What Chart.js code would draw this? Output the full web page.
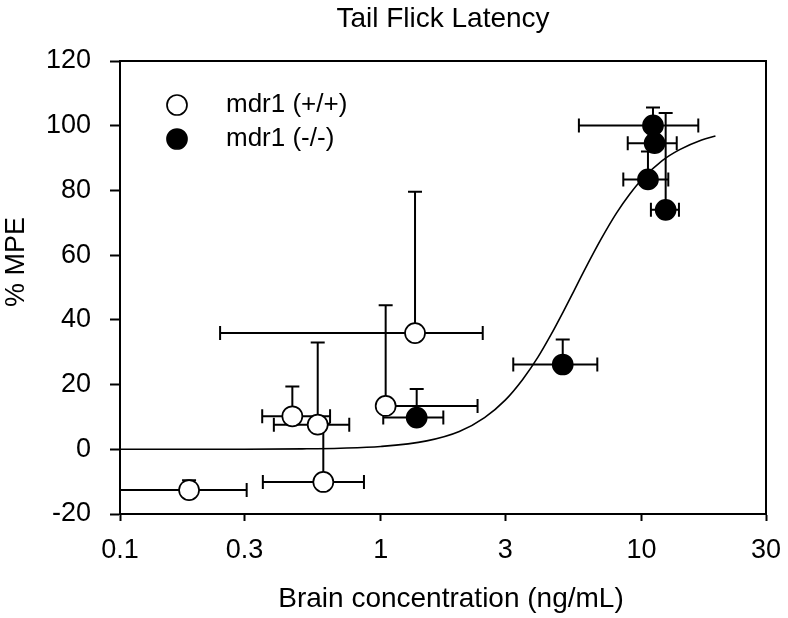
<!DOCTYPE html>
<html>
<head>
<meta charset="utf-8">
<script src="https://cdn.jsdelivr.net/npm/chart.js@4.4.1/dist/chart.umd.min.js"></script>
<style>
  html, body { margin: 0; padding: 0; background: #fff; }
</style>
</head>
<body>
<canvas id="myChart" width="788" height="618"></canvas>
<script>
const xTicks = [0.1, 0.3, 1, 3, 10, 30];

// mdr1 (+/+) - open circles
const wtX   = [0.184, 0.458, 0.573, 0.602, 1.044, 1.353];
const wtY   = [-12.6, 10.2, 7.6, -10.1, 13.4, 35.9];
const wtXLo = [0.1, 0.351, 0.389, 0.353, 1.044, 0.242];
const wtXHi = [0.306, 0.639, 0.757, 0.862, 2.35, 2.46];
const wtYHi = [-9.6, 19.4, 33.0, 7.9, 44.5, 79.6];

// mdr1 (-/-) - filled circles
const koX   = [1.373, 4.985, 10.58, 12.37, 11.22, 11.06];
const koY   = [9.8, 26.2, 83.4, 74.0, 94.6, 100.1];
const koXLo = [1.022, 3.221, 8.51, 10.86, 8.85, 5.75];
const koXHi = [1.737, 6.765, 12.66, 13.91, 13.64, 16.5];
const koYHi = [18.6, 33.9, 92.0, 103.9, 100.0, 105.6];

// fitted curve
const fitX = [0.1, 0.3, 0.5, 0.7, 1, 1.5, 2, 2.5, 3, 3.5, 4, 4.5, 5, 5.5, 6, 7, 8, 9, 10, 12, 14, 17, 19.2];
const fitY = [0, 0.03, 0.13, 0.32, 0.86, 2.6, 5.5, 9.8, 15.2, 21.6, 28.4, 35.5, 42.4, 48.9, 54.9, 65.0, 72.9, 78.8, 83.3, 89.2, 92.6, 95.6, 96.8];

const FONT = '"Liberation Sans", Arial, sans-serif';

const toPoints = (xs, ys) => xs.map((v, i) => ({ x: v, y: ys[i] }));

// Error bars drawn under the markers
const errorBars = {
    id: 'errorBars',
    beforeDatasetsDraw(chart) {
        const { ctx, chartArea, scales: { x, y } } = chart;
        const cap = 7;
        ctx.save();
        ctx.beginPath();
        ctx.rect(chartArea.left, chartArea.top, chartArea.width, chartArea.height);
        ctx.clip();
        ctx.strokeStyle = '#000';
        ctx.lineWidth = 2;
        [[wtX, wtY, wtXLo, wtXHi, wtYHi], [koX, koY, koXLo, koXHi, koYHi]].forEach(([xs, ys, lo, hi, yh]) => {
            xs.forEach((v, i) => {
                const px = x.getPixelForValue(v);
                const py = y.getPixelForValue(ys[i]);
                const l = x.getPixelForValue(lo[i]);
                const r = x.getPixelForValue(hi[i]);
                const t = y.getPixelForValue(yh[i]);
                ctx.beginPath();
                if (px - l > 1) {
                    ctx.moveTo(l, py); ctx.lineTo(px, py);
                    ctx.moveTo(l, py - cap); ctx.lineTo(l, py + cap);
                }
                if (r - px > 1) {
                    ctx.moveTo(px, py); ctx.lineTo(r, py);
                    ctx.moveTo(r, py - cap); ctx.lineTo(r, py + cap);
                }
                if (py - t > 1) {
                    ctx.moveTo(px, py); ctx.lineTo(px, t);
                    ctx.moveTo(px - cap, t); ctx.lineTo(px + cap, t);
                }
                ctx.stroke();
            });
        });
        ctx.restore();
    }
};

// Frame, titles and the legend inside the plot
const decorations = {
    id: 'decorations',
    afterDraw(chart) {
        const { ctx, chartArea } = chart;
        ctx.save();
        ctx.strokeStyle = '#000';
        ctx.lineWidth = 2;
        ctx.beginPath();
        ctx.moveTo(chartArea.left, chartArea.top);
        ctx.lineTo(chartArea.right, chartArea.top);
        ctx.lineTo(chartArea.right, chartArea.bottom);
        ctx.stroke();

        ctx.fillStyle = '#000';
        ctx.textAlign = 'center';
        ctx.textBaseline = 'alphabetic';
        ctx.font = '28px ' + FONT;
        ctx.fillText('Tail Flick Latency', (chartArea.left + chartArea.right) / 2, 27);
        ctx.font = '28px ' + FONT;
        ctx.fillText('Brain concentration (ng/mL)', (chartArea.left + chartArea.right) / 2 + 8, 607);

        ctx.save();
        ctx.translate(24, 262);
        ctx.rotate(-Math.PI / 2);
        ctx.font = '27px ' + FONT;
        ctx.fillText('% MPE', 0, 0);
        ctx.restore();

        // legend
        const lx = chartArea.left + 57;
        const rows = [
            { y: chartArea.top + 44, label: 'mdr1 (+/+)', fill: '#fff' },
            { y: chartArea.top + 78, label: 'mdr1 (-/-)', fill: '#000' }
        ];
        ctx.font = '26px ' + FONT;
        ctx.textAlign = 'left';
        ctx.textBaseline = 'middle';
        rows.forEach(row => {
            ctx.beginPath();
            ctx.arc(lx, row.y, 10, 0, Math.PI * 2);
            ctx.fillStyle = row.fill;
            ctx.fill();
            ctx.lineWidth = 1.7;
            ctx.stroke();
            ctx.fillStyle = '#000';
            ctx.fillText(row.label, lx + 49, row.y);
        });
        ctx.restore();
    }
};

const ctx = document.getElementById('myChart').getContext('2d');
const myChart = new Chart(ctx, {
    type: 'scatter',
    data: {
        datasets: [
            {
                label: 'fit',
                data: toPoints(fitX, fitY),
                showLine: true,
                borderColor: '#000',
                borderWidth: 1.6,
                pointRadius: 0,
                cubicInterpolationMode: 'monotone',
                fill: false
            },
            {
                label: 'mdr1 (+/+)',
                data: toPoints(wtX, wtY),
                pointRadius: 10,
                pointBackgroundColor: '#fff',
                pointBorderColor: '#000',
                pointBorderWidth: 1.7,
                showLine: false
            },
            {
                label: 'mdr1 (-/-)',
                data: toPoints(koX, koY),
                pointRadius: 10,
                pointBackgroundColor: '#000',
                pointBorderColor: '#000',
                pointBorderWidth: 1.7,
                showLine: false
            }
        ]
    },
    options: {
        responsive: false,
        animation: false,
        devicePixelRatio: 1,
        layout: { padding: { top: 61, right: 22, left: 0, bottom: 0 } },
        plugins: {
            legend: { display: false },
            tooltip: { enabled: false }
        },
        scales: {
            x: {
                type: 'logarithmic',
                min: 0.1,
                max: 30,
                afterBuildTicks: scale => { scale.ticks = xTicks.map(v => ({ value: v })); },
                afterFit: scale => {
                    scale.height = 104;
                    scale.paddingLeft = 0;
                    scale.paddingRight = 0;
                },
                grid: { drawOnChartArea: false, drawTicks: true, tickLength: 7, tickColor: '#000', tickWidth: 2 },
                border: { display: true, color: '#000', width: 2 },
                ticks: {
                    color: '#000',
                    font: { family: FONT, size: 27 },
                    padding: 13,
                    maxRotation: 0,
                    autoSkip: false,
                    callback: value => String(value)
                }
            },
            y: {
                min: -20,
                max: 120,
                afterFit: scale => { scale.width = 120; },
                grid: { drawOnChartArea: false, drawTicks: true, tickLength: 10, tickColor: '#000', tickWidth: 2 },
                border: { display: true, color: '#000', width: 2 },
                ticks: {
                    stepSize: 20,
                    color: '#000',
                    font: { family: FONT, size: 27 },
                    padding: 19
                }
            }
        }
    },
    plugins: [errorBars, decorations]
});
</script>
</body>
</html>
